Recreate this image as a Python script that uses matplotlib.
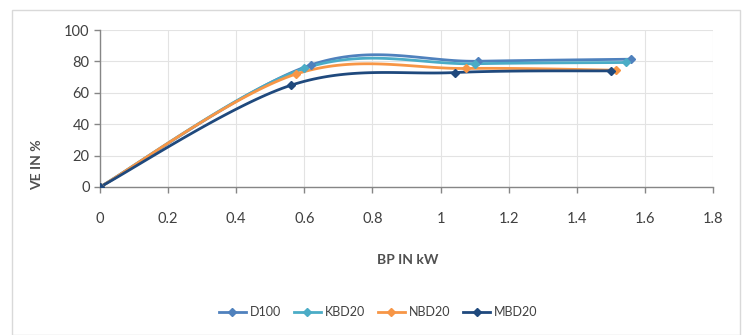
import numpy as np
import matplotlib
matplotlib.use("Agg")
import matplotlib.pyplot as plt
from matplotlib.patches import Rectangle
from matplotlib.lines import Line2D

plt.rcParams['font.family'] = ['Lato', 'DejaVu Sans']

# Brake power (kW) and volumetric efficiency (%) per fuel blend
series_names = ["D100", "KBD20", "NBD20", "MBD20"]
bp_d100 = [0.0, 0.62, 1.11, 1.56]
ve_d100 = [0.0, 77.8, 80.1, 81.4]
bp_kbd20 = [0.0, 0.60, 1.10, 1.545]
ve_kbd20 = [0.0, 75.5, 78.5, 79.3]
bp_nbd20 = [0.0, 0.575, 1.076, 1.515]
ve_nbd20 = [0.0, 71.9, 75.5, 74.4]
bp_mbd20 = [0.0, 0.562, 1.041, 1.50]
ve_mbd20 = [0.0, 64.9, 72.9, 74.0]
colors = ["#4F81BD", "#4BACC6", "#F79646", "#1F497D"]

x_ticks = [0, 0.2, 0.4, 0.6, 0.8, 1, 1.2, 1.4, 1.6, 1.8]
x_tick_labels = ["0", "0.2", "0.4", "0.6", "0.8", "1", "1.2", "1.4", "1.6", "1.8"]
y_ticks = [0, 20, 40, 60, 80, 100]


def smooth(xs, ys, n=40):
    """Catmull-Rom style Bezier smoothing (spreadsheet 'smoothed line')."""
    p = np.column_stack([xs, ys]).astype(float)
    ext = np.vstack([p[0], p, p[-1]])
    out = []
    t = np.linspace(0, 1, n)[:, None]
    for i in range(len(p) - 1):
        p0, p1, p2, p3 = ext[i], ext[i + 1], ext[i + 2], ext[i + 3]
        c1 = p1 + (p2 - p0) / 6.0
        c2 = p2 - (p3 - p1) / 6.0
        seg = ((1 - t) ** 3) * p1 + 3 * ((1 - t) ** 2) * t * c1 \
            + 3 * (1 - t) * t ** 2 * c2 + t ** 3 * p2
        out.append(seg if i == 0 else seg[1:])
    s = np.vstack(out)
    return s[:, 0], s[:, 1]


W, H = 742, 335
fig = plt.figure(figsize=(W / 100, H / 100), dpi=100)
fig.patches.append(Rectangle((12 / W, 0.0), 728 / W, (H - 10) / H,
                             transform=fig.transFigure, fill=False,
                             edgecolor="#D9D9D9", linewidth=1.0))

ax = fig.add_axes([100 / W, 148 / H, 613 / W, 157 / H])

data = [(bp_d100, ve_d100), (bp_kbd20, ve_kbd20),
        (bp_nbd20, ve_nbd20), (bp_mbd20, ve_mbd20)]
handles = []
for name, (xs, ys), c in zip(series_names, data, colors):
    sx, sy = smooth(xs, ys)
    ax.plot(sx, sy, color=c, linewidth=2.0, solid_capstyle="round", zorder=3)
    ax.plot(xs, ys, linestyle="none", marker="D", markersize=4.5,
            color=c, zorder=4)
    handles.append(Line2D([0], [0], color=c, linewidth=2.0, marker="D",
                          markersize=4.5, label=name))

ax.set_xlim(0, 1.8)
ax.set_ylim(0, 100)
ax.set_xticks(x_ticks)
ax.set_xticklabels(x_tick_labels)
ax.set_yticks(y_ticks)
ax.grid(True, color="#E3E3E3", linewidth=0.8)
ax.set_axisbelow(True)
for side in ["top", "right"]:
    ax.spines[side].set_visible(False)
for side in ["left", "bottom"]:
    ax.spines[side].set_color("#868686")
    ax.spines[side].set_linewidth(1.0)
ax.tick_params(axis="both", colors="#868686", labelcolor="#404040",
               labelsize=10.5, length=4, width=1.0)
ax.tick_params(axis="x", pad=14)

# Axis titles
fig.text(408 / W, 1 - 260 / H, "BP IN kW", ha="center", va="center",
         fontsize=10, color="#505050", fontweight="bold")
fig.text(37 / W, 1 - 165 / H, "VE IN %", ha="center", va="center",
         rotation=90, fontsize=10, color="#505050", fontweight="bold")

fig.legend(handles=handles, loc="center", bbox_to_anchor=(378 / W, 1 - 312 / H),
           ncol=4, frameon=False, fontsize=9, handlelength=2.2,
           columnspacing=1.0, handletextpad=0.3, labelcolor="#404040")

fig.savefig("out.png", dpi=100, facecolor="white")
